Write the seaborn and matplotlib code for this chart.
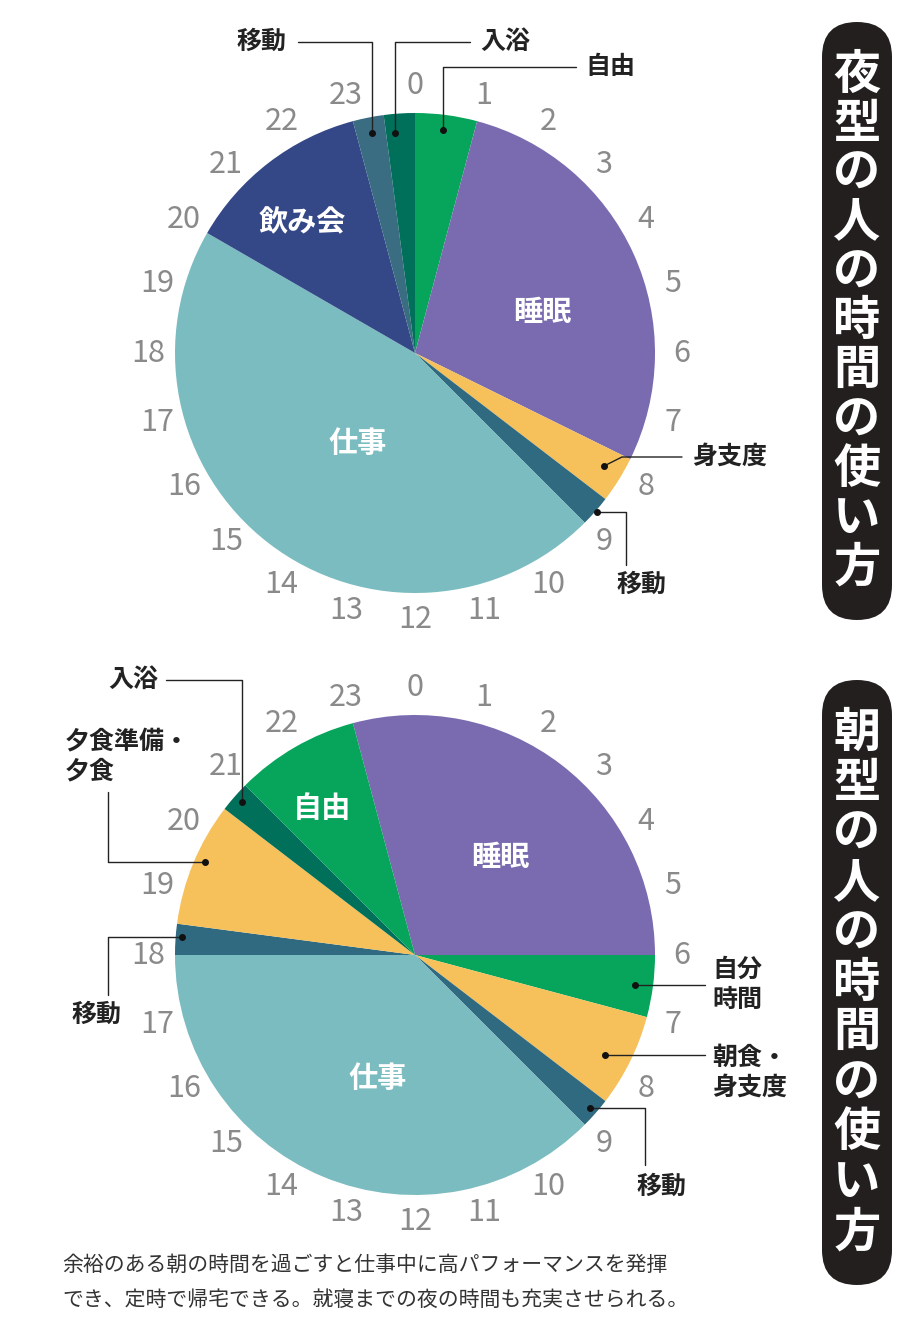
import matplotlib.pyplot as plt
import numpy as np
import seaborn as sns
from matplotlib.patches import FancyBboxPatch

sns.set_theme(style='white')
plt.rcParams['font.family'] = ['Noto Sans CJK JP', 'DejaVu Sans']

# night type: segments clockwise from 0:00 (hours)
night_labels = ['自由', '睡眠', '身支度', '移動', '仕事', '飲み会', '移動', '入浴']
night_hours = [1, 6.75, 0.75, 0.5, 11, 3, 0.5, 0.5]
night_colors = ['#07a55c', '#7a6bb0', '#f6c15b', '#2f6a80', '#7bbcc1', '#344787', '#3a6d82', '#00705a']

# morning type
morning_labels = ['睡眠', '自分時間', '朝食・身支度', '移動', '仕事', '移動', '夕食準備・夕食', '入浴', '自由']
morning_hours = [7, 1, 1.5, 0.5, 9, 0.5, 2, 0.5, 2]
morning_colors = ['#7a6bb0', '#07a55c', '#f6c15b', '#2f6a80', '#7bbcc1', '#2f6a80', '#f6c15b', '#00705a', '#07a55c']
morning_start = 23  # sleep starts at 23:00

hours = list(range(24))

fig = plt.figure(figsize=(9.2, 13.27), dpi=100)
ax = fig.add_axes([0, 0, 1, 1])
ax.axis('off')

R = 240


def draw_pie(cx, cy, vals, colors, start_hour):
    # y axis is inverted: counterclockwise in data = clockwise on screen
    ax.pie(vals, colors=colors, center=(cx, cy), radius=R, counterclock=True,
           startangle=-90 + start_hour * 15, frame=True,
           wedgeprops=dict(linewidth=0))
    for h in hours:
        a = np.deg2rad(h * 15)
        ax.text(cx + 267 * np.sin(a), cy - 267 * np.cos(a), str(h), fontsize=22,
                color='#8a8a8a', ha='center', va='center')


def leader(pts, dot=True):
    xs, ys = zip(*pts)
    ax.plot(xs, ys, color='#222222', lw=1)
    if dot:
        ax.plot(xs[-1], ys[-1], 'o', color='#111111', ms=4)


def lab(x, y, s, ha='center', color='#222222', size=18):
    ax.text(x, y, s, fontsize=size, color=color, ha=ha, va='center', fontweight='bold',
            linespacing=1.3)


draw_pie(415, 353, night_hours, night_colors, 0)
draw_pie(415, 955, morning_hours, morning_colors, morning_start)
ax.set_xlim(0, 920)
ax.set_ylim(1327, 0)
ax.set_aspect('equal')
ax.axis('off')

# top chart labels
lab(302, 222, '飲み会', color='white', size=21)
lab(542, 312, '睡眠', color='white', size=21)
lab(358, 443, '仕事', color='white', size=21)
lab(262, 42, '移動')
leader([(298, 42), (372, 42), (372, 133)])
lab(505, 42, '入浴')
leader([(470, 42), (395, 42), (395, 133)])
lab(610, 67, '自由')
leader([(576, 67), (443, 67), (443, 130)])
lab(730, 457, '身支度')
leader([(682, 457), (622, 457), (604, 466)])
lab(642, 585, '移動')
leader([(626, 565), (626, 512), (597, 512)])

# bottom chart labels
lab(322, 808, '自由', color='white', size=21)
lab(500, 857, '睡眠', color='white', size=21)
lab(378, 1078, '仕事', color='white', size=21)
lab(133, 680, '入浴')
leader([(166, 680), (242, 680), (242, 802)])
lab(65, 757, '夕食準備・\n夕食', ha='left')
leader([(108, 792), (108, 862), (205, 862)])
lab(97, 1015, '移動')
leader([(108, 995), (108, 937), (182, 937)])
lab(712, 985, '自分\n時間', ha='left')
leader([(705, 985), (635, 985)])
lab(712, 1073, '朝食・\n身支度', ha='left')
leader([(705, 1055), (605, 1055)])
lab(662, 1187, '移動')
leader([(645, 1165), (645, 1108), (590, 1108)])

# vertical title boxes
for y0, y1, title in [(22, 620, '夜型の人の時間の使い方'), (680, 1285, '朝型の人の時間の使い方')]:
    ax.add_patch(FancyBboxPatch((822, y0), 70, y1 - y0,
                                boxstyle='round,pad=0,rounding_size=35',
                                fc='#231f1e', ec='none'))
    step = (y1 - y0 - 56) / len(title)
    for i, ch in enumerate(title):
        ax.text(857, y0 + 28 + step * (i + 0.5), ch, fontsize=34, color='white',
                ha='center', va='center', fontweight='bold')

ax.text(62, 1265, '余裕のある朝の時間を過ごすと仕事中に高パフォーマンスを発揮', fontsize=15,
        color='#333333', va='center')
ax.text(62, 1300, 'でき、定時で帰宅できる。就寝までの夜の時間も充実させられる。', fontsize=15,
        color='#333333', va='center')

fig.savefig('out.png', dpi=100)
